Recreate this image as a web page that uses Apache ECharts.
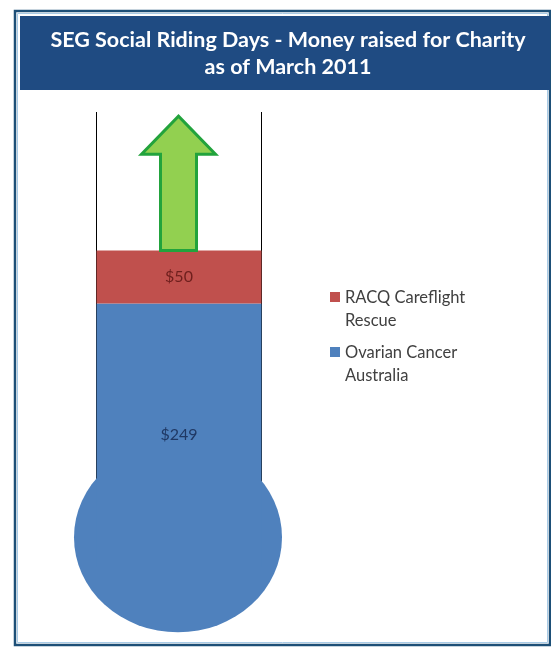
<!DOCTYPE html>
<html>
<head>
<meta charset="utf-8">
<script src="https://cdn.jsdelivr.net/npm/echarts@6/dist/echarts.min.js"></script>
<style>
html,body{margin:0;padding:0;background:#fff;}
#chart{width:551px;height:648px;}
</style>
</head>
<body>
<div id="chart"></div>
<script>
// ---- data ----
const categories = ['Total raised'];
const seriesNames = ['Ovarian Cancer\nAustralia', 'RACQ Careflight\nRescue'];
const ovarianValues = [249];
const racqValues = [50];
const valueLabels = { ovarian: ['$249'], racq: ['$50'] };
const tubeTop = [430];      // top of thermometer tube (value scale)
const arrowTop = [426];     // arrow tip (value scale)
const bulbCenter = [28];    // bulb centre (value scale)

const chart = echarts.init(document.getElementById('chart'), null, { renderer: 'canvas' });

const totals = ovarianValues.map((v, i) => v + racqValues[i]);

const option = {
  animation: false,
  backgroundColor: '#ffffff',
  title: {
    text: 'SEG Social Riding Days - Money raised for Charity\nas of March 2011',
    left: 283,
    top: 22,
    textAlign: 'center',
    textStyle: {
      color: '#ffffff',
      fontFamily: 'Lato',
      fontWeight: 'bold',
      fontSize: 21.5,
      lineHeight: 27
    }
  },
  graphic: [
    { type: 'rect', z: -10, shape: { x: 15, y: 11, width: 535, height: 634 },
      style: { fill: '#ffffff', stroke: '#1d4f77', lineWidth: 2.5 } },
    { type: 'rect', z: -9, shape: { x: 17.5, y: 13.5, width: 530, height: 629 },
      style: { fill: 'none', stroke: '#a9cbe6', lineWidth: 1 } },
    { type: 'rect', z: -8, shape: { x: 20, y: 16, width: 530, height: 74 },
      style: { fill: '#1f4b82' } }
  ],
  legend: {
    orient: 'vertical',
    left: 325,
    top: 281,
    data: [seriesNames[1], seriesNames[0]],
    itemWidth: 10,
    itemHeight: 34,
    itemGap: 9,
    icon: 'path://M0,0L10,0L10,10L0,10Z M0,34L10,34Z',
    selectedMode: false,
    textStyle: {
      color: '#404040',
      fontFamily: 'Lato',
      fontSize: 16.5,
      lineHeight: 23
    }
  },
  grid: { left: 96, right: 289, top: 112, bottom: 81, containLabel: false },
  xAxis: {
    type: 'category',
    data: categories,
    show: false
  },
  yAxis: {
    type: 'value',
    min: 0,
    max: tubeTop[0],
    show: false,
    splitLine: { show: false }
  },
  series: [
    {
      type: 'custom',
      name: 'tube',
      z: 1,
      silent: true,
      data: tubeTop.map((t, i) => [i, t]),
      renderItem: function (params, api) {
        const top = api.coord([api.value(0), api.value(1)]);
        const bot = api.coord([api.value(0), 0]);
        const half = api.size([1, 0])[0] / 2;
        return {
          type: 'group',
          children: [
            { type: 'line', shape: { x1: top[0] - half + 0.5, y1: top[1], x2: bot[0] - half + 0.5, y2: bot[1] },
              style: { stroke: '#000000', lineWidth: 1 } },
            { type: 'line', shape: { x1: top[0] + half - 0.5, y1: top[1], x2: bot[0] + half - 0.5, y2: bot[1] },
              style: { stroke: '#000000', lineWidth: 1 } }
          ]
        };
      }
    },
    {
      type: 'scatter',
      name: 'bulb',
      z: 2,
      silent: true,
      clip: false,
      symbol: 'circle',
      symbolSize: [208, 190],
      symbolOffset: [-1, 0],
      itemStyle: { color: '#4f81bd', opacity: 1 },
      data: bulbCenter.map((b, i) => [i, b])
    },
    {
      type: 'bar',
      name: seriesNames[0],
      stack: 'total',
      z: 3,
      barWidth: 165,
      itemStyle: { color: '#4f81bd' },
      label: {
        show: true,
        position: 'inside',
        formatter: p => valueLabels.ovarian[p.dataIndex],
        color: '#1f3864',
        fontFamily: 'Lato',
        fontSize: 16
      },
      data: ovarianValues
    },
    {
      type: 'bar',
      name: seriesNames[1],
      stack: 'total',
      z: 3,
      barWidth: 165,
      itemStyle: { color: '#c0504d' },
      label: {
        show: true,
        position: 'inside',
        formatter: p => valueLabels.racq[p.dataIndex],
        color: '#6e1f1d',
        fontFamily: 'Lato',
        fontSize: 16
      },
      data: racqValues
    },
    {
      type: 'custom',
      name: 'arrow',
      z: 4,
      silent: true,
      data: totals.map((t, i) => [i, t, arrowTop[i]]),
      renderItem: function (params, api) {
        const base = api.coord([api.value(0), api.value(1)]);
        const tip = api.coord([api.value(0), api.value(2)]);
        const cx = base[0] - 0.5;
        const shaftHalf = 18;
        const headHalf = 37;
        const headLen = 38;
        const points = [
          [cx - shaftHalf, base[1]],
          [cx - shaftHalf, tip[1] + headLen],
          [cx - headHalf, tip[1] + headLen],
          [cx, tip[1]],
          [cx + headHalf, tip[1] + headLen],
          [cx + shaftHalf, tip[1] + headLen],
          [cx + shaftHalf, base[1]]
        ];
        return {
          type: 'polygon',
          shape: { points: points },
          style: { fill: '#92d050', stroke: '#22a33c', lineWidth: 3 }
        };
      }
    }
  ]
};

chart.setOption(option);
</script>
</body>
</html>
